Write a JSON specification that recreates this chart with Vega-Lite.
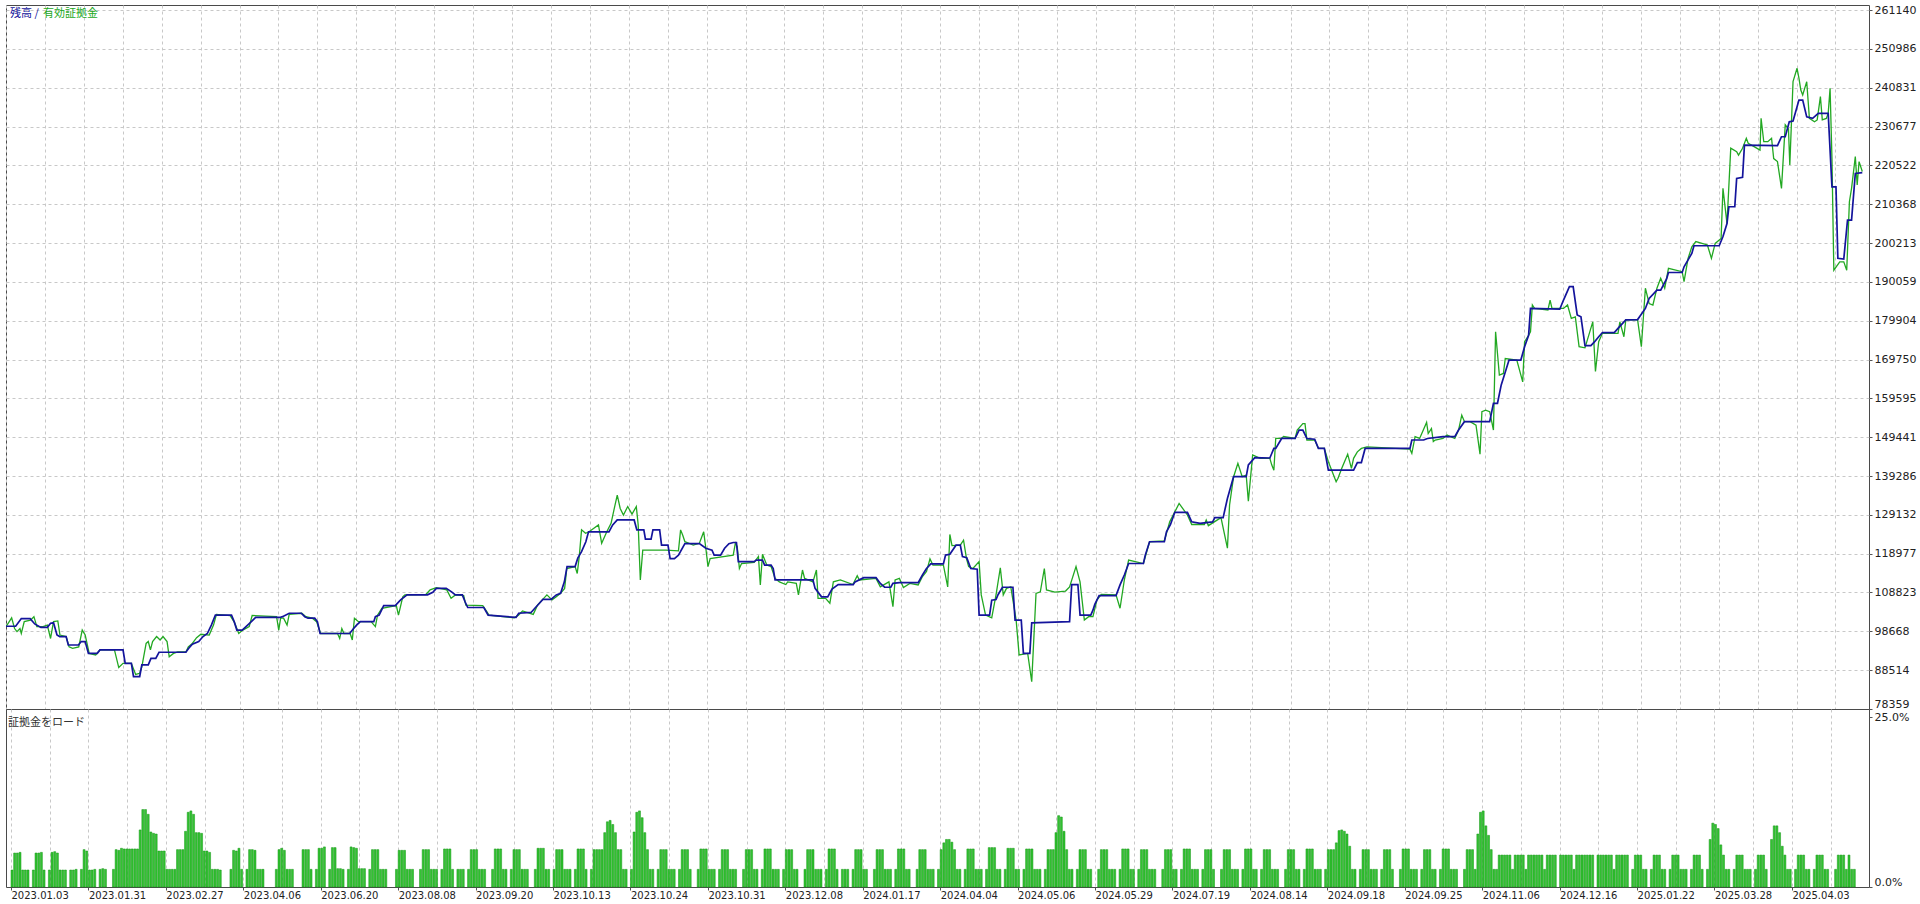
{
"$schema":"https://vega.github.io/schema/vega-lite/v6.json",
"background":"white",
"padding":{"left":5,"top":3,"right":0,"bottom":0},
"bounds":"flush",
"spacing":0,
"config":{
 "view":{"stroke":"#4a4a4a","strokeWidth":1},
 "axis":{"labelFont":"DejaVu Sans","labelFontSize":11,"labelColor":"#222222","domain":false,"gridColor":"#c8c8c8","gridDash":[3,3],"gridWidth":1,"tickColor":"#555555","title":null,"labelOverlap":false},
 "axisY":{"labelOverlap":false},
 "axisQuantitative":{"labelOverlap":false},
 "legend":{"labelFont":"Noto Sans CJK JP"}
},
"datasets":{
"balance":[{"i":0,"v":100000},{"i":3.6,"v":100000},{"i":5.7,"v":102000},{"i":9,"v":102000},{"i":10.7,"v":100600},{"i":13,"v":99700},{"i":15.4,"v":99700},{"i":16.6,"v":100800},{"i":17.7,"v":100900},{"i":19,"v":97700},{"i":20,"v":97300},{"i":22.4,"v":97300},{"i":23.2,"v":95100},{"i":27,"v":95100},{"i":28,"v":96000},{"i":29.5,"v":96000},{"i":30.7,"v":92900},{"i":34,"v":92900},{"i":35,"v":93800},{"i":43.6,"v":93800},{"i":44.4,"v":90300},{"i":46.7,"v":90300},{"i":47.5,"v":86800},{"i":49.8,"v":86800},{"i":50.6,"v":89900},{"i":53,"v":89900},{"i":54,"v":91600},{"i":55.8,"v":91600},{"i":57,"v":93200},{"i":67,"v":93200},{"i":68,"v":94200},{"i":69.4,"v":95300},{"i":71.8,"v":96000},{"i":73.4,"v":97300},{"i":75,"v":98100},{"i":76.5,"v":100300},{"i":78,"v":102900},{"i":84,"v":102900},{"i":85,"v":101200},{"i":86,"v":99000},{"i":88,"v":99000},{"i":90,"v":100300},{"i":91.4,"v":101200},{"i":93,"v":102300},{"i":102,"v":102300},{"i":103,"v":102500},{"i":105.5,"v":103400},{"i":110,"v":103400},{"i":111.3,"v":102500},{"i":112.5,"v":102100},{"i":115,"v":102100},{"i":116,"v":101200},{"i":117,"v":98100},{"i":128,"v":98100},{"i":129.5,"v":99400},{"i":130.6,"v":100300},{"i":132,"v":101200},{"i":137,"v":101200},{"i":137.6,"v":102500},{"i":139,"v":102900},{"i":140.7,"v":105400},{"i":145,"v":105400},{"i":147,"v":106900},{"i":149.4,"v":108200},{"i":157,"v":108200},{"i":159,"v":108900},{"i":160.3,"v":109900},{"i":164,"v":109900},{"i":166,"v":109000},{"i":167.4,"v":108200},{"i":170,"v":108200},{"i":171,"v":106400},{"i":172,"v":104900},{"i":178,"v":104900},{"i":179.6,"v":102900},{"i":190,"v":102300},{"i":191,"v":103400},{"i":195.6,"v":103600},{"i":197,"v":104700},{"i":198.7,"v":106000},{"i":200,"v":107000},{"i":203,"v":107000},{"i":205,"v":108200},{"i":206.6,"v":108600},{"i":208,"v":111600},{"i":209,"v":115600},{"i":212,"v":115600},{"i":213,"v":117800},{"i":214.4,"v":119500},{"i":216,"v":122100},{"i":217,"v":124700},{"i":224.6,"v":124700},{"i":226,"v":126500},{"i":227.7,"v":127800},{"i":234,"v":127800},{"i":235,"v":125200},{"i":237.6,"v":125200},{"i":238.2,"v":122800},{"i":240.3,"v":122800},{"i":241,"v":125200},{"i":243.5,"v":125200},{"i":244.2,"v":121200},{"i":246.6,"v":121200},{"i":247.4,"v":117700},{"i":249,"v":117700},{"i":250.5,"v":118600},{"i":252.9,"v":121600},{"i":258.3,"v":121600},{"i":260.7,"v":120400},{"i":263,"v":119900},{"i":263.8,"v":118600},{"i":266.2,"v":118600},{"i":267.7,"v":120400},{"i":269.3,"v":121600},{"i":270.9,"v":121900},{"i":272.1,"v":121900},{"i":272.8,"v":116900},{"i":278.7,"v":116900},{"i":279.5,"v":117300},{"i":281.8,"v":117300},{"i":282.6,"v":116000},{"i":285,"v":116000},{"i":285.8,"v":115100},{"i":286.5,"v":112100},{"i":300.6,"v":112100},{"i":301.4,"v":109900},{"i":303.8,"v":107700},{"i":306.1,"v":107700},{"i":307.7,"v":109700},{"i":310,"v":110900},{"i":315.6,"v":110900},{"i":316.3,"v":111600},{"i":319.5,"v":112700},{"i":324.1,"v":112700},{"i":325.7,"v":111200},{"i":327.3,"v":110200},{"i":329.6,"v":110200},{"i":330.4,"v":111200},{"i":332.8,"v":111400},{"i":339.8,"v":111400},{"i":341.4,"v":113400},{"i":342.9,"v":115100},{"i":344.5,"v":116300},{"i":349.2,"v":116300},{"i":350,"v":118600},{"i":351.6,"v":118800},{"i":353.9,"v":121200},{"i":355.5,"v":121200},{"i":356.3,"v":118200},{"i":357.9,"v":117900},{"i":359.4,"v":115100},{"i":361.8,"v":114900},{"i":362.5,"v":102900},{"i":366.4,"v":102900},{"i":367.2,"v":106800},{"i":368.8,"v":107000},{"i":369.6,"v":108300},{"i":371.2,"v":110200},{"i":375.1,"v":110200},{"i":375.9,"v":101600},{"i":378.2,"v":101600},{"i":379,"v":92900},{"i":381.4,"v":92900},{"i":382.1,"v":100900},{"i":396.2,"v":101200},{"i":397,"v":110900},{"i":399.3,"v":110900},{"i":400.1,"v":102900},{"i":404.1,"v":102900},{"i":404.9,"v":104200},{"i":405.6,"v":105700},{"i":407.2,"v":108000},{"i":413.5,"v":108000},{"i":415,"v":110800},{"i":416.6,"v":113400},{"i":418.2,"v":116400},{"i":423.7,"v":116400},{"i":424.4,"v":118600},{"i":426,"v":122100},{"i":431.5,"v":122100},{"i":432.3,"v":124700},{"i":433.8,"v":126600},{"i":435.4,"v":129800},{"i":440.1,"v":129800},{"i":441.7,"v":127300},{"i":444.8,"v":126900},{"i":449.5,"v":127300},{"i":450.3,"v":128400},{"i":453.4,"v":128400},{"i":455,"v":133400},{"i":457.3,"v":139100},{"i":462,"v":139100},{"i":462.8,"v":142200},{"i":465.2,"v":144100},{"i":470.8,"v":144000},{"i":472.3,"v":146500},{"i":473,"v":146500},{"i":475.2,"v":149100},{"i":480.2,"v":149100},{"i":481.7,"v":151300},{"i":483.1,"v":151300},{"i":484.6,"v":149100},{"i":487.5,"v":148900},{"i":488.9,"v":146500},{"i":491.1,"v":146500},{"i":492.6,"v":140800},{"i":502,"v":140800},{"i":503.4,"v":142800},{"i":504.9,"v":142800},{"i":506.3,"v":146500},{"i":523,"v":146500},{"i":523.7,"v":148700},{"i":528.1,"v":148700},{"i":529.5,"v":149100},{"i":535.3,"v":149600},{"i":539.7,"v":149600},{"i":541.1,"v":151300},{"i":543.3,"v":153500},{"i":552.7,"v":153500},{"i":554.1,"v":158300},{"i":555.6,"v":158300},{"i":557,"v":163100},{"i":559.9,"v":169600},{"i":564.3,"v":169600},{"i":565.7,"v":173100},{"i":567.2,"v":176100},{"i":567.9,"v":183100},{"i":578.8,"v":182900},{"i":580.2,"v":185300},{"i":582.4,"v":188800},{"i":583.8,"v":188800},{"i":585.3,"v":181400},{"i":586.7,"v":180900},{"i":588.2,"v":173400},{"i":590.4,"v":173400},{"i":591.8,"v":174400},{"i":593.3,"v":175700},{"i":594.7,"v":176800},{"i":599.1,"v":176800},{"i":600.5,"v":177900},{"i":603.4,"v":180100},{"i":607.8,"v":180200},{"i":610.7,"v":183100},{"i":612.1,"v":185700},{"i":615,"v":187900},{"i":616.4,"v":187900},{"i":618.6,"v":190800},{"i":619.3,"v":192500},{"i":624.4,"v":192500},{"i":625.1,"v":194000},{"i":626.6,"v":195800},{"i":628,"v":197500},{"i":628.8,"v":199500},{"i":638.2,"v":199500},{"i":639.6,"v":201900},{"i":641.1,"v":205300},{"i":641.8,"v":209700},{"i":644,"v":209700},{"i":644.7,"v":217100},{"i":646.9,"v":217400},{"i":647.6,"v":225800},{"i":659.9,"v":225700},{"i":661.4,"v":228000},{"i":662.8,"v":228000},{"i":664.3,"v":231900},{"i":665.7,"v":232100},{"i":667.9,"v":237600},{"i":669.3,"v":237600},{"i":670.8,"v":233200},{"i":673,"v":232800},{"i":675.1,"v":234100},{"i":678.8,"v":234100},{"i":680.2,"v":214900},{"i":681.7,"v":214900},{"i":682.4,"v":196200},{"i":684.6,"v":196000},{"i":686,"v":206200},{"i":687.5,"v":206200},{"i":688.9,"v":218400},{"i":691.5,"v":218600}],
"equity":[{"i":0,"v":99900},{"i":2.1,"v":102200},{"i":3.2,"v":99400},{"i":4.1,"v":98600},{"i":5.2,"v":99400},{"i":5.7,"v":98100},{"i":6.8,"v":101200},{"i":9.1,"v":101600},{"i":10.4,"v":102500},{"i":11.5,"v":99900},{"i":13.8,"v":99900},{"i":15.4,"v":100300},{"i":16.6,"v":96800},{"i":17.7,"v":101200},{"i":19.3,"v":101400},{"i":20.1,"v":97700},{"i":22.4,"v":97300},{"i":23.5,"v":94600},{"i":24.8,"v":94200},{"i":27.1,"v":94600},{"i":28.4,"v":99000},{"i":29.5,"v":97700},{"i":30.3,"v":95100},{"i":31,"v":92900},{"i":33.4,"v":92500},{"i":35,"v":93800},{"i":40.4,"v":93800},{"i":42,"v":89200},{"i":43.6,"v":90300},{"i":46.7,"v":90300},{"i":48.3,"v":87400},{"i":49.8,"v":87700},{"i":50.6,"v":89400},{"i":52.2,"v":95500},{"i":53,"v":96000},{"i":53.8,"v":93800},{"i":54.6,"v":96000},{"i":56.1,"v":97300},{"i":57.4,"v":96400},{"i":58.5,"v":97300},{"i":60,"v":96000},{"i":60.8,"v":92000},{"i":62.4,"v":92900},{"i":64,"v":93300},{"i":67.1,"v":93300},{"i":67.9,"v":94600},{"i":69.4,"v":95500},{"i":71,"v":97000},{"i":72.6,"v":97900},{"i":75.7,"v":97700},{"i":77.3,"v":100300},{"i":78.4,"v":103100},{"i":83.5,"v":102800},{"i":85.1,"v":101000},{"i":86.7,"v":98100},{"i":88.2,"v":99000},{"i":90.6,"v":99900},{"i":91.7,"v":102800},{"i":100.8,"v":102500},{"i":101.6,"v":99000},{"i":102.3,"v":102100},{"i":103.4,"v":102100},{"i":104.7,"v":100300},{"i":105.5,"v":103100},{"i":110.2,"v":103400},{"i":111.7,"v":102500},{"i":114.1,"v":102100},{"i":115.7,"v":101200},{"i":117.2,"v":98100},{"i":123.5,"v":98100},{"i":124.3,"v":96800},{"i":125.1,"v":99400},{"i":125.9,"v":98100},{"i":128.2,"v":98100},{"i":129,"v":96400},{"i":129.8,"v":102100},{"i":131.3,"v":101200},{"i":136,"v":101200},{"i":137.6,"v":99900},{"i":138.4,"v":102900},{"i":140,"v":104700},{"i":145.4,"v":105400},{"i":146.2,"v":102900},{"i":147.8,"v":107700},{"i":148.6,"v":108200},{"i":156.4,"v":108300},{"i":158,"v":109500},{"i":160.3,"v":110100},{"i":164.2,"v":109500},{"i":165.8,"v":107300},{"i":167.4,"v":108200},{"i":170.5,"v":108000},{"i":171.3,"v":105500},{"i":177.6,"v":105400},{"i":179.1,"v":103800},{"i":179.9,"v":102900},{"i":189.3,"v":102200},{"i":190.9,"v":102900},{"i":192.4,"v":104000},{"i":196.4,"v":103100},{"i":198,"v":105500},{"i":200.3,"v":107300},{"i":201.5,"v":108200},{"i":203.4,"v":106900},{"i":205,"v":107700},{"i":206.6,"v":108600},{"i":208.1,"v":109900},{"i":208.9,"v":115100},{"i":212,"v":115600},{"i":212.8,"v":113800},{"i":213.6,"v":118600},{"i":214.4,"v":125200},{"i":215.9,"v":124300},{"i":217.2,"v":124700},{"i":220.7,"v":126500},{"i":221.9,"v":121700},{"i":223.8,"v":124700},{"i":225.4,"v":126900},{"i":226.6,"v":130800},{"i":227.7,"v":134300},{"i":228.8,"v":130800},{"i":230,"v":129100},{"i":231.6,"v":131300},{"i":233.2,"v":129300},{"i":234.8,"v":131300},{"i":235.5,"v":126500},{"i":236.3,"v":112100},{"i":237.2,"v":119900},{"i":245.8,"v":119900},{"i":250.5,"v":119700},{"i":251.3,"v":125200},{"i":252.1,"v":123800},{"i":252.9,"v":122100},{"i":254.4,"v":121700},{"i":256,"v":121200},{"i":258.3,"v":121700},{"i":259.9,"v":124700},{"i":260.7,"v":120400},{"i":261.5,"v":115600},{"i":262.3,"v":117700},{"i":270.9,"v":118600},{"i":271.7,"v":121700},{"i":272.4,"v":120800},{"i":273.2,"v":115100},{"i":274,"v":116400},{"i":278.7,"v":116700},{"i":280.3,"v":118200},{"i":281,"v":110800},{"i":281.8,"v":118800},{"i":283.4,"v":116000},{"i":285,"v":115600},{"i":286.5,"v":112500},{"i":288.1,"v":111600},{"i":290.5,"v":110900},{"i":291.2,"v":111600},{"i":294.4,"v":111200},{"i":295.2,"v":108200},{"i":296.7,"v":114700},{"i":297.5,"v":112500},{"i":300.6,"v":111600},{"i":301.9,"v":114700},{"i":302.5,"v":107300},{"i":305.3,"v":107300},{"i":306.9,"v":106000},{"i":308.2,"v":111600},{"i":310.8,"v":112100},{"i":315.5,"v":110900},{"i":317.1,"v":113200},{"i":317.9,"v":112100},{"i":324.1,"v":112500},{"i":325.7,"v":110300},{"i":328.9,"v":111600},{"i":330.4,"v":105100},{"i":331.2,"v":112100},{"i":332.8,"v":112500},{"i":334.3,"v":110100},{"i":336.7,"v":111200},{"i":339.8,"v":110800},{"i":341.4,"v":113000},{"i":342.9,"v":114300},{"i":344.2,"v":117600},{"i":345.3,"v":116000},{"i":349.2,"v":116000},{"i":350.8,"v":110300},{"i":351.6,"v":124000},{"i":352.4,"v":121100},{"i":355.5,"v":121200},{"i":356.7,"v":122500},{"i":357.8,"v":117700},{"i":358.6,"v":115600},{"i":360.2,"v":115100},{"i":362.5,"v":116900},{"i":363.3,"v":108200},{"i":364.9,"v":102900},{"i":367.2,"v":102200},{"i":368.8,"v":108200},{"i":370.4,"v":115300},{"i":371.5,"v":108200},{"i":372.7,"v":109900},{"i":374.3,"v":110300},{"i":376.3,"v":101600},{"i":377.4,"v":92500},{"i":380.6,"v":92900},{"i":382.1,"v":85500},{"i":383.7,"v":108600},{"i":385.3,"v":109000},{"i":386.8,"v":115100},{"i":387.6,"v":109500},{"i":390.7,"v":108900},{"i":394.7,"v":109200},{"i":396.2,"v":110300},{"i":398.6,"v":115600},{"i":400.1,"v":111600},{"i":401.7,"v":101600},{"i":403.3,"v":102500},{"i":404.9,"v":102500},{"i":406.4,"v":106900},{"i":408,"v":108300},{"i":413.5,"v":108200},{"i":415,"v":104700},{"i":416.6,"v":112100},{"i":418.2,"v":117300},{"i":423.7,"v":116400},{"i":426,"v":122100},{"i":431.5,"v":122300},{"i":433.5,"v":127300},{"i":437,"v":132100},{"i":440.1,"v":129100},{"i":441.7,"v":126600},{"i":446.4,"v":126600},{"i":447.1,"v":127800},{"i":447.9,"v":126300},{"i":452.6,"v":128400},{"i":455,"v":120400},{"i":455.8,"v":131700},{"i":457.3,"v":139100},{"i":458.9,"v":142600},{"i":460.5,"v":139100},{"i":462,"v":139500},{"i":462.8,"v":132700},{"i":464.4,"v":144800},{"i":467.2,"v":143900},{"i":470.8,"v":143900},{"i":471.5,"v":142200},{"i":472.3,"v":140800},{"i":473,"v":149100},{"i":475.2,"v":149100},{"i":475.9,"v":149600},{"i":480.2,"v":149100},{"i":481,"v":151300},{"i":483.1,"v":153000},{"i":483.9,"v":153000},{"i":484.6,"v":148700},{"i":487.5,"v":148700},{"i":488.9,"v":146500},{"i":491.1,"v":146500},{"i":492.6,"v":143000},{"i":495.5,"v":137800},{"i":496.2,"v":138700},{"i":497.6,"v":141300},{"i":499.8,"v":145000},{"i":501.2,"v":141300},{"i":502,"v":143900},{"i":503.4,"v":145600},{"i":504.9,"v":146500},{"i":507,"v":146900},{"i":523,"v":146300},{"i":523.7,"v":145200},{"i":524.9,"v":149600},{"i":526.6,"v":149100},{"i":529.2,"v":153300},{"i":529.8,"v":150400},{"i":531,"v":151700},{"i":531.7,"v":148300},{"i":532.4,"v":148700},{"i":535.3,"v":149100},{"i":536.8,"v":150000},{"i":539.7,"v":149100},{"i":541.1,"v":151300},{"i":542.3,"v":155200},{"i":543.3,"v":153500},{"i":545.4,"v":153500},{"i":547.6,"v":152600},{"i":549.1,"v":145000},{"i":549.8,"v":156100},{"i":551.2,"v":156500},{"i":552.7,"v":156100},{"i":554.1,"v":151300},{"i":554.9,"v":177000},{"i":556.3,"v":165700},{"i":557.8,"v":166100},{"i":558.5,"v":170000},{"i":562.8,"v":169600},{"i":565,"v":163900},{"i":565.7,"v":174400},{"i":567.2,"v":176100},{"i":567.9,"v":177000},{"i":568.6,"v":184000},{"i":569.4,"v":183100},{"i":574.4,"v":182700},{"i":575.2,"v":185300},{"i":575.9,"v":183100},{"i":580.2,"v":183100},{"i":581.7,"v":184000},{"i":583.1,"v":180500},{"i":584.6,"v":180900},{"i":586,"v":173100},{"i":588.2,"v":172800},{"i":591.1,"v":179600},{"i":592.1,"v":166600},{"i":593.3,"v":174400},{"i":594.7,"v":176600},{"i":600.5,"v":176600},{"i":601.2,"v":179600},{"i":602.7,"v":175700},{"i":603.4,"v":180100},{"i":607.8,"v":180100},{"i":609.2,"v":173100},{"i":610.7,"v":188400},{"i":612.1,"v":184400},{"i":613.5,"v":184000},{"i":615,"v":188400},{"i":616.4,"v":191000},{"i":617.9,"v":188400},{"i":619.3,"v":193600},{"i":624.4,"v":192700},{"i":625.1,"v":190100},{"i":626.6,"v":196200},{"i":628,"v":199200},{"i":629.5,"v":200600},{"i":633.8,"v":199700},{"i":635.3,"v":196200},{"i":636.7,"v":200100},{"i":638.9,"v":201400},{"i":639.6,"v":214500},{"i":641.1,"v":205300},{"i":642.5,"v":225000},{"i":644.7,"v":224100},{"i":645.4,"v":223200},{"i":646.9,"v":225000},{"i":648.3,"v":227600},{"i":649,"v":226300},{"i":651.2,"v":225400},{"i":653.4,"v":224500},{"i":653.8,"v":232800},{"i":654.8,"v":226700},{"i":656.3,"v":226700},{"i":657.7,"v":227600},{"i":658.5,"v":222300},{"i":659.9,"v":221500},{"i":661.4,"v":214500},{"i":662.8,"v":231100},{"i":664,"v":230000},{"i":664.5,"v":220600},{"i":665.7,"v":242400},{"i":667.2,"v":245900},{"i":667.9,"v":243300},{"i":668.6,"v":240200},{"i":669.3,"v":238900},{"i":670.8,"v":242400},{"i":671.8,"v":232800},{"i":673.7,"v":231900},{"i":674.7,"v":232400},{"i":675.9,"v":238500},{"i":676.6,"v":232400},{"i":678.1,"v":232800},{"i":678.8,"v":234100},{"i":679.5,"v":240700},{"i":680.2,"v":222300},{"i":680.9,"v":193100},{"i":683.1,"v":195300},{"i":684.6,"v":195300},{"i":685.7,"v":193100},{"i":686.7,"v":211000},{"i":687.5,"v":214500},{"i":688.9,"v":222800},{"i":689.6,"v":215400},{"i":690.3,"v":221500},{"i":691.5,"v":218900}],
"load":[{"i":0,"m":2.5},{"i":1,"m":5.0},{"i":2,"m":5.0},{"i":3,"m":5.1},{"i":4,"m":2.5},{"i":5,"m":2.5},{"i":6,"m":2.5},{"i":8,"m":2.5},{"i":9,"m":5.0},{"i":10,"m":5.0},{"i":11,"m":5.1},{"i":12,"m":2.5},{"i":14,"m":2.5},{"i":15,"m":5.1},{"i":16,"m":5.2},{"i":17,"m":5.0},{"i":18,"m":2.5},{"i":19,"m":2.5},{"i":20,"m":2.5},{"i":22,"m":2.5},{"i":23,"m":2.5},{"i":24,"m":2.6},{"i":26,"m":2.6},{"i":27,"m":5.5},{"i":28,"m":5.3},{"i":29,"m":2.5},{"i":30,"m":2.5},{"i":31,"m":2.6},{"i":33,"m":2.6},{"i":34,"m":2.7},{"i":35,"m":2.6},{"i":38,"m":2.6},{"i":39,"m":5.5},{"i":40,"m":5.4},{"i":41,"m":5.7},{"i":42,"m":5.6},{"i":43,"m":5.6},{"i":44,"m":5.6},{"i":45,"m":5.6},{"i":46,"m":5.6},{"i":47,"m":5.6},{"i":48,"m":8.4},{"i":49,"m":11.4},{"i":50,"m":11.4},{"i":51,"m":10.7},{"i":52,"m":8.1},{"i":53,"m":7.9},{"i":54,"m":7.8},{"i":55,"m":5.3},{"i":56,"m":5.3},{"i":57,"m":5.3},{"i":58,"m":2.6},{"i":59,"m":2.6},{"i":60,"m":2.6},{"i":61,"m":2.6},{"i":62,"m":5.5},{"i":63,"m":5.5},{"i":64,"m":5.5},{"i":65,"m":8.2},{"i":66,"m":11.0},{"i":67,"m":11.2},{"i":68,"m":10.7},{"i":69,"m":8.0},{"i":70,"m":8.0},{"i":71,"m":7.9},{"i":72,"m":5.3},{"i":73,"m":5.3},{"i":74,"m":5.1},{"i":75,"m":2.6},{"i":76,"m":2.6},{"i":77,"m":2.6},{"i":78,"m":2.5},{"i":82,"m":2.6},{"i":83,"m":5.4},{"i":84,"m":5.3},{"i":85,"m":5.7},{"i":86,"m":2.6},{"i":88,"m":2.6},{"i":89,"m":5.5},{"i":90,"m":5.5},{"i":91,"m":5.4},{"i":92,"m":2.6},{"i":93,"m":2.6},{"i":94,"m":2.6},{"i":99,"m":2.6},{"i":100,"m":5.5},{"i":101,"m":5.7},{"i":102,"m":5.4},{"i":103,"m":2.6},{"i":104,"m":2.6},{"i":105,"m":2.6},{"i":109,"m":5.5},{"i":110,"m":5.5},{"i":111,"m":5.5},{"i":112,"m":2.6},{"i":114,"m":2.6},{"i":115,"m":5.7},{"i":116,"m":5.7},{"i":117,"m":5.9},{"i":119,"m":2.6},{"i":120,"m":5.8},{"i":121,"m":5.8},{"i":122,"m":2.7},{"i":123,"m":2.7},{"i":124,"m":2.6},{"i":126,"m":2.6},{"i":127,"m":5.9},{"i":128,"m":5.8},{"i":129,"m":5.7},{"i":130,"m":2.7},{"i":131,"m":2.7},{"i":132,"m":2.7},{"i":134,"m":2.6},{"i":135,"m":5.5},{"i":136,"m":5.5},{"i":137,"m":5.5},{"i":138,"m":2.6},{"i":139,"m":2.6},{"i":140,"m":2.6},{"i":144,"m":2.6},{"i":145,"m":5.4},
{"i":146,"m":5.4},{"i":147,"m":5.4},{"i":148,"m":2.6},{"i":149,"m":2.6},{"i":150,"m":2.6},{"i":153,"m":2.6},{"i":154,"m":5.5},{"i":155,"m":5.5},{"i":156,"m":5.5},{"i":157,"m":2.6},{"i":158,"m":2.6},{"i":159,"m":2.6},{"i":161,"m":2.6},{"i":162,"m":5.6},{"i":163,"m":5.6},{"i":164,"m":5.6},{"i":165,"m":2.6},{"i":167,"m":2.6},{"i":168,"m":2.6},{"i":169,"m":2.6},{"i":171,"m":2.6},{"i":172,"m":5.5},{"i":173,"m":5.5},{"i":174,"m":5.5},
{"i":175,"m":2.6},{"i":176,"m":2.6},{"i":177,"m":2.6},{"i":180,"m":2.6},{"i":181,"m":5.6},{"i":182,"m":5.6},{"i":183,"m":5.6},{"i":184,"m":2.6},{"i":185,"m":2.6},{"i":187,"m":2.6},{"i":188,"m":5.5},{"i":189,"m":5.5},{"i":190,"m":5.5},{"i":191,"m":2.6},{"i":192,"m":2.6},{"i":193,"m":2.6},{"i":196,"m":2.6},{"i":197,"m":5.7},{"i":198,"m":5.7},{"i":199,"m":5.7},{"i":200,"m":2.6},{"i":201,"m":2.6},{"i":203,"m":2.6},
{"i":204,"m":5.5},{"i":205,"m":5.5},{"i":206,"m":5.5},{"i":207,"m":2.6},{"i":208,"m":2.6},{"i":209,"m":2.6},{"i":211,"m":2.6},{"i":212,"m":5.6},{"i":213,"m":5.6},{"i":214,"m":5.6},{"i":215,"m":2.6},{"i":217,"m":2.6},{"i":218,"m":5.5},{"i":219,"m":5.5},{"i":220,"m":5.5},{"i":221,"m":5.5},{"i":222,"m":8.0},{"i":223,"m":9.6},{"i":224,"m":9.8},{"i":225,"m":9.2},{"i":226,"m":8.0},{"i":227,"m":5.5},{"i":228,"m":5.5},{"i":229,"m":2.6},{"i":230,"m":2.6},{"i":232,"m":2.6},
{"i":233,"m":8.1},{"i":234,"m":11.0},{"i":235,"m":11.2},{"i":236,"m":10.2},{"i":237,"m":8.0},{"i":238,"m":5.5},{"i":239,"m":2.6},{"i":240,"m":2.6},{"i":242,"m":2.6},{"i":243,"m":5.5},{"i":244,"m":5.5},{"i":245,"m":5.5},{"i":246,"m":2.6},{"i":247,"m":2.6},{"i":248,"m":2.6},{"i":250,"m":2.6},{"i":251,"m":5.5},{"i":252,"m":5.5},{"i":253,"m":5.5},{"i":254,"m":2.6},{"i":257,"m":2.6},{"i":258,"m":5.6},{"i":259,"m":5.6},{"i":260,"m":5.6},{"i":261,"m":2.6},
{"i":262,"m":2.6},{"i":263,"m":2.6},{"i":265,"m":2.6},{"i":266,"m":5.5},{"i":267,"m":5.5},{"i":268,"m":5.5},{"i":269,"m":2.6},{"i":270,"m":2.6},{"i":271,"m":2.6},{"i":274,"m":2.6},{"i":275,"m":5.5},{"i":276,"m":5.5},{"i":277,"m":5.5},{"i":278,"m":2.6},{"i":279,"m":2.6},{"i":281,"m":2.6},{"i":282,"m":5.6},{"i":283,"m":5.6},{"i":284,"m":5.6},{"i":285,"m":2.6},{"i":286,"m":2.6},{"i":287,"m":2.6},{"i":289,"m":2.6},{"i":290,"m":5.5},
{"i":291,"m":5.5},{"i":292,"m":5.5},{"i":293,"m":2.6},{"i":294,"m":2.6},{"i":297,"m":2.6},{"i":298,"m":5.5},{"i":299,"m":5.5},{"i":300,"m":5.5},{"i":301,"m":2.6},{"i":302,"m":2.6},{"i":303,"m":2.6},{"i":305,"m":2.6},{"i":306,"m":5.6},{"i":307,"m":5.6},{"i":308,"m":5.6},{"i":309,"m":2.6},{"i":311,"m":2.6},{"i":312,"m":2.6},{"i":313,"m":2.6},{"i":315,"m":2.6},{"i":316,"m":5.5},{"i":317,"m":5.5},{"i":318,"m":5.5},{"i":319,"m":2.6},
{"i":320,"m":2.6},{"i":323,"m":2.6},{"i":324,"m":5.5},{"i":325,"m":5.5},{"i":326,"m":5.5},{"i":327,"m":2.6},{"i":328,"m":2.6},{"i":329,"m":2.6},{"i":331,"m":2.6},{"i":332,"m":5.6},{"i":333,"m":5.6},{"i":334,"m":5.6},{"i":335,"m":2.6},{"i":336,"m":2.6},{"i":339,"m":2.6},{"i":340,"m":5.5},{"i":341,"m":5.5},{"i":342,"m":5.5},{"i":343,"m":2.6},{"i":344,"m":2.6},{"i":345,"m":2.6},{"i":347,"m":2.6},{"i":348,"m":5.5},
{"i":349,"m":6.5},{"i":350,"m":7.0},{"i":351,"m":7.0},{"i":352,"m":6.6},{"i":353,"m":5.5},{"i":354,"m":2.6},{"i":355,"m":2.6},{"i":357,"m":2.6},{"i":358,"m":5.6},{"i":359,"m":5.6},{"i":360,"m":5.6},{"i":361,"m":2.6},{"i":362,"m":2.6},{"i":363,"m":2.6},{"i":365,"m":2.6},{"i":366,"m":5.8},{"i":367,"m":5.8},{"i":368,"m":5.8},{"i":369,"m":2.6},{"i":370,"m":2.6},{"i":372,"m":2.6},{"i":373,"m":5.7},{"i":374,"m":5.7},{"i":375,"m":5.7},{"i":376,"m":2.6},{"i":377,"m":2.6},
{"i":379,"m":2.6},{"i":380,"m":5.6},{"i":381,"m":5.6},{"i":382,"m":5.6},{"i":383,"m":2.6},{"i":384,"m":2.6},{"i":385,"m":2.6},{"i":387,"m":2.6},{"i":388,"m":5.5},{"i":389,"m":5.5},{"i":390,"m":5.5},{"i":391,"m":8.0},{"i":392,"m":10.5},{"i":393,"m":10.3},{"i":394,"m":8.2},{"i":395,"m":5.5},{"i":396,"m":2.6},{"i":397,"m":2.6},{"i":399,"m":2.6},{"i":400,"m":5.5},{"i":401,"m":5.5},{"i":402,"m":5.5},{"i":403,"m":2.6},{"i":404,"m":2.6},
{"i":407,"m":2.6},{"i":408,"m":5.5},{"i":409,"m":5.5},{"i":410,"m":5.5},{"i":411,"m":2.6},{"i":412,"m":2.6},{"i":413,"m":2.6},{"i":415,"m":2.6},{"i":416,"m":5.6},{"i":417,"m":5.6},{"i":418,"m":5.6},{"i":419,"m":2.6},{"i":420,"m":2.6},{"i":422,"m":2.6},{"i":423,"m":5.5},{"i":424,"m":5.5},{"i":425,"m":5.5},{"i":426,"m":2.6},{"i":427,"m":2.6},{"i":428,"m":2.6},{"i":431,"m":2.6},{"i":432,"m":5.5},{"i":433,"m":5.5},{"i":434,"m":5.5},{"i":435,"m":2.6},
{"i":436,"m":2.6},{"i":438,"m":2.6},{"i":439,"m":5.6},{"i":440,"m":5.6},{"i":441,"m":5.6},{"i":442,"m":2.6},{"i":443,"m":2.6},{"i":444,"m":2.6},{"i":446,"m":2.6},{"i":447,"m":5.5},{"i":448,"m":5.5},{"i":449,"m":5.5},{"i":450,"m":2.6},{"i":453,"m":2.6},{"i":454,"m":5.5},{"i":455,"m":5.5},{"i":456,"m":5.5},{"i":457,"m":2.6},{"i":458,"m":2.6},{"i":459,"m":2.6},{"i":461,"m":2.6},{"i":462,"m":5.6},{"i":463,"m":5.6},{"i":464,"m":5.6},
{"i":465,"m":2.6},{"i":466,"m":2.6},{"i":468,"m":2.6},{"i":469,"m":5.5},{"i":470,"m":5.5},{"i":471,"m":5.5},{"i":472,"m":2.6},{"i":473,"m":2.6},{"i":474,"m":2.6},{"i":477,"m":2.6},{"i":478,"m":5.5},{"i":479,"m":5.5},{"i":480,"m":5.5},{"i":481,"m":2.6},{"i":482,"m":2.6},{"i":484,"m":2.6},{"i":485,"m":5.6},{"i":486,"m":5.6},{"i":487,"m":5.6},{"i":488,"m":2.6},{"i":489,"m":2.6},{"i":490,"m":2.6},{"i":492,"m":2.6},{"i":493,"m":5.5},
{"i":494,"m":5.5},{"i":495,"m":5.5},{"i":496,"m":6.5},{"i":497,"m":8.3},{"i":498,"m":8.4},{"i":499,"m":8.2},{"i":500,"m":7.8},{"i":501,"m":6.0},{"i":502,"m":2.6},{"i":503,"m":2.6},{"i":505,"m":2.6},{"i":506,"m":5.5},{"i":507,"m":5.5},{"i":508,"m":5.5},{"i":509,"m":2.6},{"i":510,"m":2.6},{"i":511,"m":2.6},{"i":513,"m":2.6},{"i":514,"m":5.5},{"i":515,"m":5.5},{"i":516,"m":5.5},{"i":517,"m":2.6},{"i":520,"m":2.6},{"i":521,"m":5.6},{"i":522,"m":5.6},
{"i":523,"m":5.6},{"i":524,"m":2.6},{"i":525,"m":2.6},{"i":526,"m":2.6},{"i":528,"m":2.6},{"i":529,"m":5.5},{"i":530,"m":5.5},{"i":531,"m":5.5},{"i":532,"m":2.6},{"i":533,"m":2.6},{"i":535,"m":2.6},{"i":536,"m":5.6},{"i":537,"m":5.6},{"i":538,"m":5.6},{"i":539,"m":2.6},{"i":540,"m":2.6},{"i":541,"m":2.6},{"i":544,"m":2.6},{"i":545,"m":5.5},{"i":546,"m":5.5},{"i":547,"m":5.5},{"i":548,"m":2.6},{"i":549,"m":7.8},{"i":550,"m":11.0},{"i":551,"m":11.2},
{"i":552,"m":9.0},{"i":553,"m":7.6},{"i":554,"m":5.5},{"i":555,"m":2.6},{"i":556,"m":2.6},{"i":557,"m":4.7},{"i":558,"m":4.7},{"i":559,"m":4.7},{"i":560,"m":4.7},{"i":561,"m":4.7},{"i":562,"m":2.6},{"i":563,"m":4.7},{"i":564,"m":4.7},{"i":565,"m":4.7},{"i":566,"m":4.7},{"i":567,"m":2.6},{"i":568,"m":4.7},{"i":569,"m":4.7},{"i":570,"m":4.7},{"i":571,"m":4.7},{"i":572,"m":4.7},{"i":573,"m":4.7},{"i":574,"m":2.6},{"i":575,"m":4.7},{"i":576,"m":4.7},{"i":577,"m":4.7},{"i":578,"m":4.7},{"i":580,"m":4.7},
{"i":581,"m":4.7},{"i":582,"m":4.7},{"i":583,"m":4.7},{"i":584,"m":4.7},{"i":585,"m":2.6},{"i":586,"m":4.7},{"i":587,"m":4.7},{"i":588,"m":4.7},{"i":589,"m":4.7},{"i":590,"m":4.7},{"i":591,"m":4.7},{"i":592,"m":4.7},{"i":594,"m":4.7},{"i":595,"m":4.7},{"i":596,"m":4.7},{"i":597,"m":4.7},{"i":598,"m":4.7},{"i":599,"m":4.7},{"i":600,"m":2.6},{"i":601,"m":4.7},{"i":602,"m":4.7},{"i":603,"m":4.7},{"i":604,"m":4.7},{"i":605,"m":4.7},{"i":607,"m":2.6},{"i":608,"m":4.7},{"i":609,"m":4.7},
{"i":610,"m":4.7},{"i":611,"m":2.6},{"i":612,"m":2.6},{"i":614,"m":2.6},{"i":615,"m":4.7},{"i":616,"m":4.7},{"i":617,"m":4.7},{"i":618,"m":2.6},{"i":619,"m":2.6},{"i":621,"m":2.6},{"i":622,"m":4.7},{"i":623,"m":4.7},{"i":624,"m":4.7},{"i":625,"m":2.6},{"i":626,"m":2.6},{"i":627,"m":2.6},{"i":629,"m":2.6},{"i":630,"m":4.7},{"i":631,"m":4.7},{"i":632,"m":4.7},{"i":633,"m":2.6},{"i":635,"m":2.6},{"i":636,"m":7.0},{"i":637,"m":9.4},{"i":638,"m":9.2},
{"i":639,"m":8.6},{"i":640,"m":6.2},{"i":641,"m":4.7},{"i":642,"m":2.6},{"i":643,"m":2.6},{"i":645,"m":2.6},{"i":646,"m":4.7},{"i":647,"m":4.7},{"i":648,"m":4.7},{"i":649,"m":2.6},{"i":650,"m":2.6},{"i":651,"m":2.6},{"i":653,"m":2.6},{"i":654,"m":4.7},{"i":655,"m":4.7},{"i":656,"m":4.7},{"i":657,"m":2.6},{"i":659,"m":7.0},{"i":660,"m":9.0},{"i":661,"m":9.0},{"i":662,"m":8.0},{"i":663,"m":6.0},{"i":664,"m":4.7},{"i":665,"m":2.6},{"i":666,"m":2.6},
{"i":668,"m":2.6},{"i":669,"m":4.7},{"i":670,"m":4.7},{"i":671,"m":4.7},{"i":672,"m":2.6},{"i":673,"m":2.6},{"i":675,"m":2.6},{"i":676,"m":4.7},{"i":677,"m":4.7},{"i":678,"m":4.7},{"i":679,"m":2.6},{"i":680,"m":2.6},{"i":683,"m":2.6},{"i":684,"m":4.7},{"i":685,"m":4.7},{"i":686,"m":4.7},{"i":687,"m":2.6},{"i":688,"m":4.7},{"i":689,"m":2.6},{"i":690,"m":2.6}]
},
"vconcat":[
{
 "width":1863,"height":704,
 "encoding":{
  "x":{"field":"i","type":"quantitative","scale":{"domain":[0,694],"nice":false,"zero":false},
   "axis":{"values":[0,14.5,29,43.5,58,72.5,87,101.5,116,130.5,145,159.5,174,188.5,203,217.5,232,246.5,261,275.5,290,304.5,319,333.5,348,362.5,377,391.5,406,420.5,435,449.5,464,478.5,493,507.5,522,536.5,551,565.5,580,594.5,609,623.5,638,652.5,667,681.5],"labels":false,"ticks":false,"grid":true}},
  "y":{"field":"v","type":"quantitative","scale":{"domain":[78359,262450],"nice":false,"zero":false},
   "axis":{"orient":"right","values":[78359,88514,98668,108823,118977,129132,139286,149441,159595,169750,179904,190059,200213,210368,220522,230677,240831,250986,261140],"format":"d","grid":true,"tickSize":3,"labelPadding":2,"labelFlush":1,"labelOverlap":false,"labelBound":false}}
 },
 "layer":[
  {"data":{"name":"equity"},
   "mark":{"type":"line","strokeWidth":1.3,"clip":true},
   "encoding":{
    "color":{"datum":"有効証拠金","type":"nominal","scale":{"domain":["残高","有効証拠金"],"range":["#14149c","#22a822"]},
     "legend":{"orient":"top-left","direction":"horizontal","offset":3,"padding":0,"title":null,"symbolType":"square","symbolSize":1,"symbolStrokeWidth":0,"symbolOpacity":0,"labelOffset":-10,"columnPadding":3,"gridAlign":"none","labelFontSize":11,"labelExpr":"datum.value === '残高' ? '残高 /' : datum.value",
      "encode":{"labels":{"update":{"fill":{"signal":"datum.value === '残高' ? '#14149c' : '#22a822'"}}}}}}
   }},
  {"data":{"name":"balance"},
   "mark":{"type":"line","strokeWidth":1.7,"clip":true},
   "encoding":{
    "color":{"datum":"残高","type":"nominal"}
   }}
 ]
},
{
 "width":1863,"height":178,
 "title":{"text":"証拠金をロード","anchor":"start","frame":"group","orient":"top","offset":-19,"dx":2,"font":"Noto Sans CJK JP","fontSize":11,"fontWeight":"normal","color":"#333333"},
 "data":{"name":"load"},
 "mark":{"type":"bar","width":2,"xOffset":1,"color":"#33c433","stroke":"#129412","strokeWidth":0.5},
 "encoding":{
  "x":{"field":"i","type":"quantitative","scale":{"domain":[0,694],"nice":false,"zero":false},
   "axis":{"values":[0,14.5,29,43.5,58,72.5,87,101.5,116,130.5,145,159.5,174,188.5,203,217.5,232,246.5,261,275.5,290,304.5,319,333.5,348,362.5,377,391.5,406,420.5,435,449.5,464,478.5,493,507.5,522,536.5,551,565.5,580,594.5,609,623.5,638,652.5,667,681.5],
    "grid":true,"labelAlign":"left","labelFontSize":10,"labelPadding":0,"tickSize":3,"labelOverlap":false,
    "tickOpacity":{"condition":{"test":"datum.value % 29 === 0","value":1},"value":0},
    "labelExpr":"datum.value % 29 === 0 ? ['2023.01.03','2023.01.31','2023.02.27','2023.04.06','2023.06.20','2023.08.08','2023.09.20','2023.10.13','2023.10.24','2023.10.31','2023.12.08','2024.01.17','2024.04.04','2024.05.06','2024.05.29','2024.07.19','2024.08.14','2024.09.18','2024.09.25','2024.11.06','2024.12.16','2025.01.22','2025.03.28','2025.04.03'][datum.value / 29] : ''"}},
  "y":{"field":"m","type":"quantitative","scale":{"domain":[0,26.2],"nice":false},
   "axis":{"orient":"right","values":[0,25],"grid":false,"tickSize":3,"labelPadding":2,"labelFlush":1,"labelOverlap":false,"labelExpr":"format(datum.value, '.1f') + '%'"}}
 }
}
]
}
